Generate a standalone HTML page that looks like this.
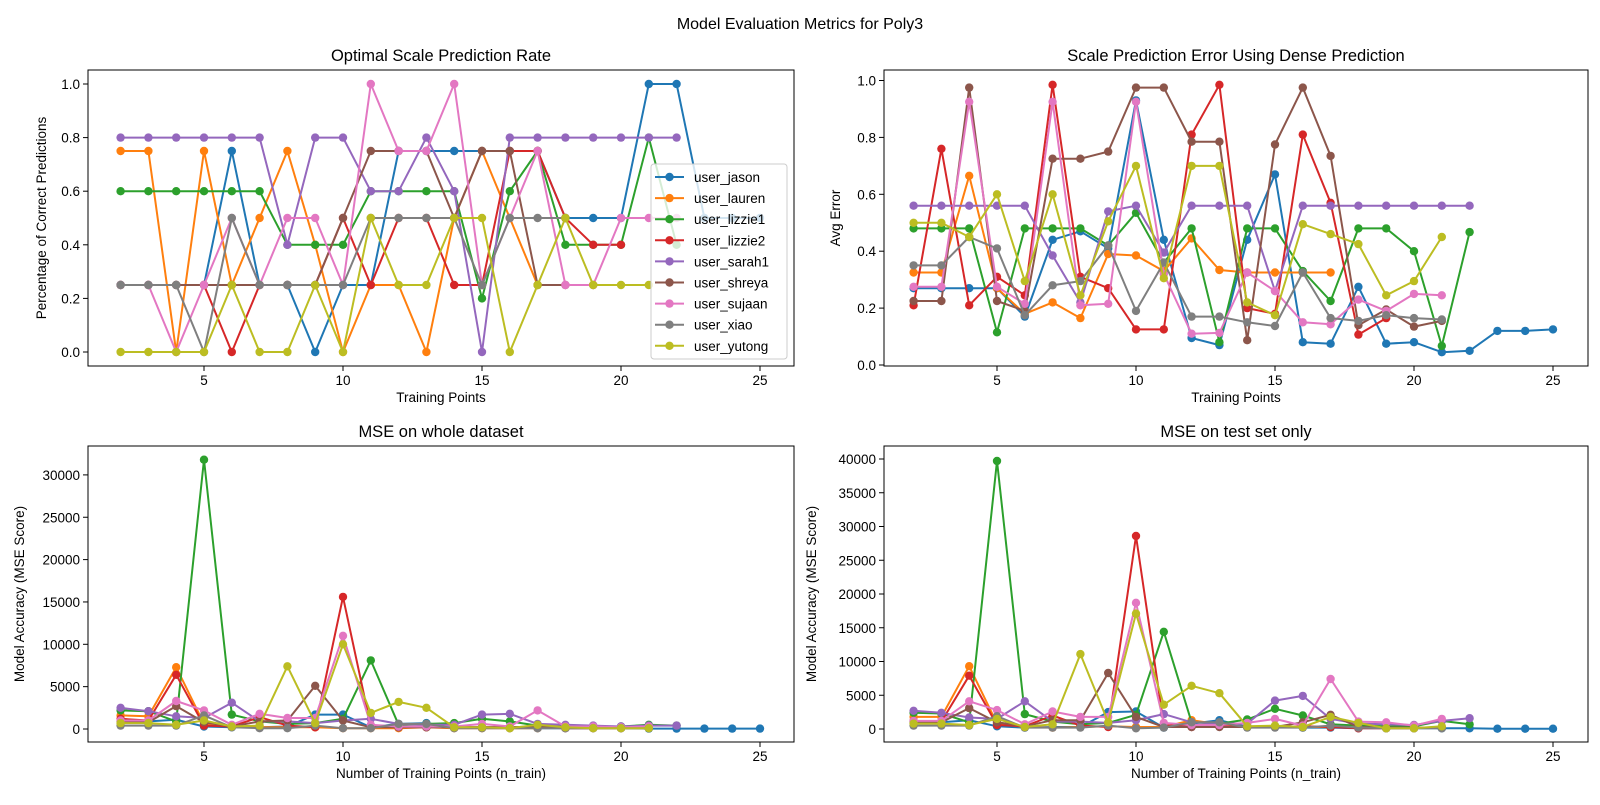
<!DOCTYPE html>
<html><head><meta charset="utf-8"><style>
body{margin:0;background:#fff;}
svg text{font-family:"Liberation Sans","DejaVu Sans",sans-serif;fill:#000;}
</style></head><body>
<svg id="fig" width="1600" height="800" viewBox="0 0 1600 800" xmlns="http://www.w3.org/2000/svg">
<rect width="1600" height="800" fill="#fff"/>
<text x="800" y="29" font-size="16" text-anchor="middle">Model Evaluation Metrics for Poly3</text>
</svg>
<script>
const users = ["user_jason","user_lauren","user_lizzie1","user_lizzie2","user_sarah1","user_shreya","user_sujaan","user_xiao","user_yutong"];
const colors = ["#1f77b4","#ff7f0e","#2ca02c","#d62728","#9467bd","#8c564b","#e377c2","#7f7f7f","#bcbd22"];
const xTicks = [5,10,15,20,25];

// Panel 1: optimal scale prediction rate (x starts at 2)
const rate_jason   = [0.25,0.25,0.25,0.25,0.75,0.25,0.25,0,0.25,0.25,0.75,0.75,0.75,0.75,0.75,0.75,0.5,0.5,0.5,1,1,0.5,0.5,0.5];
const rate_lauren  = [0.75,0.75,0,0.75,0.25,0.5,0.75,0.4,0,0.25,0.25,0,0.5,0.75,0.5,0.25];
const rate_lizzie1 = [0.6,0.6,0.6,0.6,0.6,0.6,0.4,0.4,0.4,0.6,0.6,0.6,0.6,0.2,0.6,0.75,0.4,0.4,0.4,0.8,0.4];
const rate_lizzie2 = [0.25,0.25,0.25,0.25,0,0.25,0.25,0.25,0.5,0.25,0.5,0.5,0.25,0.25,0.75,0.75,0.5,0.4,0.4];
const rate_sarah1  = [0.8,0.8,0.8,0.8,0.8,0.8,0.4,0.8,0.8,0.6,0.6,0.8,0.6,0,0.8,0.8,0.8,0.8,0.8,0.8,0.8];
const rate_shreya  = [0.25,0.25,0.25,0.25,0.25,0.25,0.25,0.25,0.5,0.75,0.75,0.75,0.5,0.75,0.75,0.25,0.25,0.25];
const rate_sujaan  = [0.25,0.25,0,0.25,0.5,0.25,0.5,0.5,0.25,1,0.75,0.75,1,0.25,0.5,0.75,0.25,0.25,0.5,0.5,0.5];
const rate_xiao    = [0.25,0.25,0.25,0,0.5,0.25,0.25,0.25,0.25,0.5,0.5,0.5,0.5,0.25,0.5,0.5,0.5];
const rate_yutong  = [0,0,0,0,0.25,0,0,0.25,0,0.5,0.25,0.25,0.5,0.5,0,0.25,0.5,0.25,0.25,0.25];

// Panel 2: avg error
const err_jason   = [0.27,0.27,0.27,0.27,0.17,0.44,0.47,0.41,0.93,0.44,0.095,0.07,0.44,0.67,0.08,0.075,0.275,0.075,0.08,0.045,0.05,0.12,0.12,0.125];
const err_lauren  = [0.325,0.325,0.665,0.27,0.18,0.22,0.165,0.39,0.385,0.33,0.445,0.334,0.325,0.325,0.325,0.325];
const err_lizzie1 = [0.48,0.48,0.48,0.115,0.48,0.48,0.48,0.42,0.535,0.36,0.48,0.08,0.48,0.48,0.33,0.225,0.48,0.48,0.4,0.067,0.467];
const err_lizzie2 = [0.21,0.76,0.21,0.31,0.245,0.985,0.31,0.27,0.125,0.125,0.81,0.985,0.2,0.18,0.81,0.57,0.107,0.165];
const err_sarah1  = [0.56,0.56,0.56,0.56,0.56,0.385,0.22,0.54,0.56,0.395,0.56,0.56,0.56,0.26,0.56,0.56,0.56,0.56,0.56,0.56,0.56];
const err_shreya  = [0.225,0.225,0.975,0.225,0.19,0.725,0.725,0.75,0.975,0.975,0.785,0.785,0.087,0.775,0.975,0.735,0.14,0.195,0.135,0.155];
const err_sujaan  = [0.275,0.275,0.925,0.275,0.215,0.925,0.21,0.215,0.925,0.32,0.11,0.113,0.325,0.26,0.15,0.143,0.23,0.19,0.25,0.245];
const err_xiao    = [0.35,0.35,0.45,0.41,0.175,0.28,0.295,0.42,0.19,0.36,0.17,0.17,0.15,0.137,0.325,0.165,0.155,0.175,0.165,0.16];
const err_yutong  = [0.5,0.5,0.45,0.6,0.295,0.6,0.245,0.505,0.7,0.305,0.7,0.7,0.22,0.175,0.495,0.46,0.425,0.245,0.295,0.45];

// Panel 3: MSE whole dataset
const mse_jason   = [900,900,1100,300,200,200,300,1700,1700,200,600,700,200,200,200,100,100,100,100,50,50,50,50,50];
const mse_lauren  = [1600,1500,7300,600,300,200,200,200,100,100,100,200,100,100,100,100];
const mse_lizzie1 = [2200,2100,900,31800,1700,900,600,700,1200,8100,500,600,700,1200,900,400,300,300,300,500,400];
const mse_lizzie2 = [1200,1000,6400,400,300,1400,400,200,15600,300,200,200,200,200,200,200,100,100,100];
const mse_sarah1  = [2500,2100,1500,1300,3100,900,900,700,1000,1200,600,500,500,1700,1800,600,500,400,300,400,400];
const mse_shreya  = [900,800,2700,800,300,900,1000,5100,1000,200,200,200,200,200,200,300,200,200,100,100];
const mse_sujaan  = [1000,1000,3300,2200,500,1800,1300,1300,11000,500,300,300,300,600,300,2200,300,300,200,300];
const mse_xiao    = [400,400,400,1600,200,100,100,400,100,100,600,600,100,100,100,100,100,100,100,100];
const mse_yutong  = [700,700,500,1000,300,400,7400,700,10000,1900,3200,2500,200,200,100,500,200,100,100,100];

// Panel 4: MSE test set
const tst_jason   = [1000,1000,1300,400,200,300,300,2500,2600,200,800,1300,300,300,200,200,100,100,100,100,100,50,50,50];
const tst_lauren  = [1800,1800,9300,800,300,200,300,400,300,300,1300,700,300,300,300,300];
const tst_lizzie1 = [2400,2300,1000,39700,2200,1100,700,900,2100,14400,1000,800,1400,3000,2000,700,500,400,400,1200,700];
const tst_lizzie2 = [1200,1100,7900,600,400,2000,500,300,28600,600,300,400,300,300,400,300,100,100,100];
const tst_sarah1  = [2700,2400,1700,1500,4100,1100,1100,900,1300,2200,1000,800,800,4200,4900,1500,800,700,600,1200,1600];
const tst_shreya  = [1100,1000,3100,1000,400,1300,1300,8300,1800,300,300,300,300,300,1000,2100,300,200,200,200];
const tst_sujaan  = [1200,1200,4100,2800,700,2600,1800,1800,18700,900,600,600,900,1500,500,7400,1100,1000,500,1500];
const tst_xiao    = [500,500,500,1900,200,200,200,500,100,200,1000,1000,200,200,200,500,200,100,100,100];
const tst_yutong  = [800,800,600,1500,300,700,11100,1000,17100,3600,6400,5300,400,500,300,1800,900,100,100,400];

const rateYTicks = ["0.0","0.2","0.4","0.6","0.8","1.0"];
const errYTicks = ["0.0","0.2","0.4","0.6","0.8","1.0"];
const mseYTicks = [0,5000,10000,15000,20000,25000,30000];
const tstYTicks = [0,5000,10000,15000,20000,25000,30000,35000,40000];

const NS = "http://www.w3.org/2000/svg";
const svg = document.getElementById('fig');
function mk(tag, attrs, parent){const e=document.createElementNS(NS,tag);for(const k in attrs)e.setAttribute(k,attrs[k]);(parent||svg).appendChild(e);return e;}

function panel(cfg){
  const g = mk('g',{});
  
  
  const xs = n => cfg.x5 + (n-5)*27.8;
  const ys = v => cfg.y0 - v*cfg.ky;
  const clipId = cfg.name+'-clip';
  const cp = mk('clipPath',{id:clipId},g);
  mk('rect',{x:cfg.L,y:cfg.T,width:cfg.R-cfg.L,height:cfg.B-cfg.T},cp);
  // series
  const dg = mk('g',{'clip-path':'url(#'+clipId+')'},g);
  cfg.series.forEach((arr,i)=>{
    const pts = arr.map((v,j)=>[xs(j+2),ys(v)]);
    const pl = mk('polyline',{points:pts.map(p=>p[0].toFixed(1)+','+p[1].toFixed(1)).join(' '),fill:'none',stroke:colors[i],'stroke-width':2,'stroke-linejoin':'round'},dg);
    
    
    pts.forEach(p=>{
      const c = mk('circle',{cx:p[0].toFixed(1),cy:p[1].toFixed(1),r:4.2,fill:colors[i]},dg);
      
      
    });
  });
  // frame
  const fr = mk('rect',{x:cfg.L,y:cfg.T,width:cfg.R-cfg.L,height:cfg.B-cfg.T,fill:'none',stroke:'#000','stroke-width':1},g);
  
  
  // x ticks
  xTicks.forEach(n=>{
    const x=xs(n);
    mk('line',{x1:x,x2:x,y1:cfg.B,y2:cfg.B+5,stroke:'#000'},g);
    const t=mk('text',{x:x,y:cfg.B+19,'font-size':13.5,'text-anchor':'middle'},g);
    t.textContent=n;
    
    
  });
  cfg.yTicks.forEach((lab,i)=>{
    const y=ys(cfg.yVals[i]);
    mk('line',{x1:cfg.L-5,x2:cfg.L,y1:y,y2:y,stroke:'#000'},g);
    const t=mk('text',{x:cfg.L-8,y:y+5,'font-size':13.5,'text-anchor':'end'},g);
    t.textContent=lab;
    
    
  });
  const ti=mk('text',{x:(cfg.L+cfg.R)/2,y:cfg.T-9,'font-size':16.5,'text-anchor':'middle'},g);
  ti.textContent=cfg.title;
  
  
  const xl=mk('text',{x:(cfg.L+cfg.R)/2,y:cfg.B+36,'font-size':13.5,'text-anchor':'middle'},g);
  xl.textContent=cfg.xlabel;
  
  
  const yl=mk('text',{x:cfg.ylx,y:(cfg.T+cfg.B)/2,'font-size':13.5,'text-anchor':'middle',transform:'rotate(-90 '+cfg.ylx+' '+(cfg.T+cfg.B)/2+')'},g);
  yl.textContent=cfg.ylabel;
  
  
  return g;
}

panel({name:'rate-panel',L:88,R:794,T:70,B:366,x5:204,y0:352,ky:268,
  series:[rate_jason,rate_lauren,rate_lizzie1,rate_lizzie2,rate_sarah1,rate_shreya,rate_sujaan,rate_xiao,rate_yutong],
  yTicks:rateYTicks,yVals:rateYTicks.map(Number),title:'Optimal Scale Prediction Rate',xlabel:'Training Points',ylabel:'Percentage of Correct Predictions',ylx:46});
panel({name:'error-panel',L:884,R:1588,T:70,B:366,x5:997,y0:365,ky:284.5,
  series:[err_jason,err_lauren,err_lizzie1,err_lizzie2,err_sarah1,err_shreya,err_sujaan,err_xiao,err_yutong],
  yTicks:errYTicks,yVals:errYTicks.map(Number),title:'Scale Prediction Error Using Dense Prediction',xlabel:'Training Points',ylabel:'Avg Error',ylx:840});
panel({name:'mse-whole-panel',L:88,R:794,T:446,B:742,x5:204,y0:729,ky:0.00847,
  series:[mse_jason,mse_lauren,mse_lizzie1,mse_lizzie2,mse_sarah1,mse_shreya,mse_sujaan,mse_xiao,mse_yutong],
  yTicks:mseYTicks.map(String),yVals:mseYTicks,title:'MSE on whole dataset',xlabel:'Number of Training Points (n_train)',ylabel:'Model Accuracy (MSE Score)',ylx:24});
panel({name:'mse-test-panel',L:884,R:1588,T:446,B:742,x5:997,y0:729,ky:0.00675,
  series:[tst_jason,tst_lauren,tst_lizzie1,tst_lizzie2,tst_sarah1,tst_shreya,tst_sujaan,tst_xiao,tst_yutong],
  yTicks:tstYTicks.map(String),yVals:tstYTicks,title:'MSE on test set only',xlabel:'Number of Training Points (n_train)',ylabel:'Model Accuracy (MSE Score)',ylx:816});

// legend
const lg = mk('g',{});


mk('rect',{x:651,y:164,width:136,height:195,rx:3,fill:'#fff','fill-opacity':0.8,stroke:'#ccc'},lg);
users.forEach((u,i)=>{
  const y=177+i*21.1;
  const e=mk('g',{},lg);
  
  
  mk('line',{x1:655,x2:684,y1:y,y2:y,stroke:colors[i],'stroke-width':2},e);
  mk('circle',{cx:669.5,cy:y,r:4.2,fill:colors[i]},e);
  const t=mk('text',{x:694,y:y+5,'font-size':13.5},e);
  t.textContent=u;
});
</script>
</body></html>
